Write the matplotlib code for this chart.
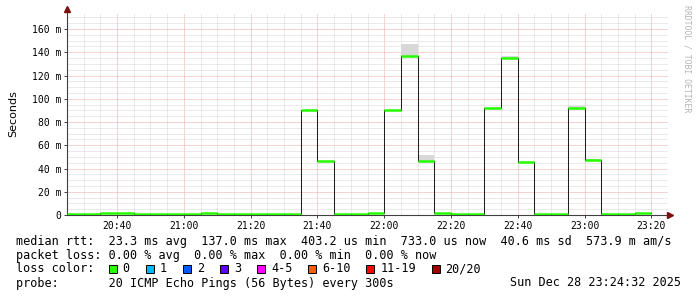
"""SmokePing style latency graph (rrdtool look) redrawn with matplotlib."""
import pandas as pd
import matplotlib
matplotlib.use("Agg")
import matplotlib.pyplot as plt
import matplotlib.dates as mdates
from matplotlib.patches import Rectangle
from matplotlib.ticker import MultipleLocator, FuncFormatter

# 5 minute steps, start of each step
times = pd.date_range("2025-12-28 20:25", periods=35, freq="5min")
# median rtt per step, in milliseconds
median = [0.7, 0.7, 1.5, 1.5, 0.7, 0.7, 0.7, 0.7, 1.5, 0.7, 0.7, 0.7, 0.7, 0.7,
          90.6, 46.7, 0.7, 0.7, 1.3, 90.6, 137.0, 46.7, 1.3, 0.7, 0.7,
          91.8, 135.3, 45.6, 0.7, 0.7, 91.8, 47.0, 0.7, 0.7, 1.3]
# top of the smoke (max ping) per step, in milliseconds
smoke_hi = [0.7, 0.7, 1.5, 1.5, 0.7, 0.7, 0.7, 0.7, 1.5, 0.7, 0.7, 0.7, 0.7, 0.7,
            90.6, 46.7, 0.7, 0.7, 1.3, 90.6, 146.8, 51.6, 1.3, 0.7, 0.7,
            91.8, 136.8, 45.6, 0.7, 0.7, 93.5, 48.3, 0.7, 0.7, 1.3]

loss_labels = ["0", "1", "2", "3", "4-5", "6-10", "11-19", "20/20"]
loss_colors = ["#26ff00", "#00b8ff", "#0059ff", "#5e00ff", "#ff00ff",
               "#ff5e00", "#ff0000", "#a10000"]

rtt_line = "median rtt:  23.3 ms avg  137.0 ms max  403.2 us min  733.0 us now  40.6 ms sd  573.9 m am/s"
loss_line = "packet loss: 0.00 % avg  0.00 % max  0.00 % min  0.00 % now"
probe_line = "probe:       20 ICMP Echo Pings (56 Bytes) every 300s"
stamp = "Sun Dec 28 23:24:32 2025"

W, H = 697, 297
MONO = "DejaVu Sans Mono"


def fx(x):
    return x / W


def fy(y):
    return 1 - y / H


fig = plt.figure(figsize=(W / 100, H / 100), dpi=100)
fig.patch.set_facecolor("white")
ax = fig.add_axes([fx(67), fy(215), (668 - 67) / W, (215 - 13) / H])

step = pd.Timedelta("5min")
ends = times + step

# smoke between median and max
for t0, t1, lo, hi in zip(times, ends, median, smoke_hi):
    if hi > lo:
        ax.fill_between([t0, t1], lo, hi, color="#d8d8d8", lw=0, zorder=2)

# thin black connecting line
ax.step(list(times) + [ends[-1]], median + [median[-1]], where="post",
        color="#202020", lw=0.75, zorder=3)
# median coloured by loss (all 0 here)
ax.hlines(median, times, ends, color=loss_colors[0], lw=1.8, zorder=4)

ax.set_xlim(pd.Timestamp("2025-12-28 20:25"), pd.Timestamp("2025-12-28 23:25"))
ax.set_ylim(0, 173.8)

ax.xaxis.set_major_locator(mdates.MinuteLocator(byminute=[0, 20, 40]))
ax.xaxis.set_minor_locator(mdates.MinuteLocator(byminute=range(0, 60, 5)))
ax.xaxis.set_major_formatter(mdates.DateFormatter("%H:%M"))
ax.yaxis.set_major_locator(MultipleLocator(20))
ax.yaxis.set_minor_locator(MultipleLocator(5))
ax.yaxis.set_major_formatter(FuncFormatter(lambda v, p: "0" if v == 0 else f"{v:.0f} m"))

ax.grid(which="minor", color="#d6d6d6", ls=(0, (1, 1)), lw=0.72, zorder=0)
ax.grid(which="major", color="#f0a6a6", ls=(0, (1, 1)), lw=0.72, zorder=1)
ax.set_axisbelow(True)

ax.tick_params(which="major", length=2, width=0.7, color="#404040", pad=2,
               labelsize=7)
ax.tick_params(which="minor", length=0)
for lab in ax.get_xticklabels() + ax.get_yticklabels():
    lab.set_family(MONO)

for s in ["top", "right"]:
    ax.spines[s].set_visible(False)
for s in ["left", "bottom"]:
    ax.spines[s].set_color("#404040")
    ax.spines[s].set_linewidth(0.8)

# axis arrows
ax.plot([0], [1.02], marker="^", ms=4, color="#7a1010", transform=ax.transAxes,
        clip_on=False, zorder=6)
ax.plot([1.004], [0], marker=">", ms=4, color="#7a1010", transform=ax.transAxes,
        clip_on=False, zorder=6)

ax.set_ylabel("Seconds", fontsize=8, labelpad=10)

fig.text(fx(687), fy(59), "RRDTOOL / TOBI OETIKER", rotation=270, family=MONO,
         fontsize=5.9, color="#b4b4b4", ha="center", va="center")

# legend rows
txt = dict(family=MONO, fontsize=8.45, va="center", ha="left", color="black")
fig.text(fx(16), fy(241), rtt_line, **txt)
fig.text(fx(16), fy(255), loss_line, **txt)
fig.text(fx(16), fy(269), "loss color:", **txt)
fig.text(fx(16), fy(283), probe_line, **txt)
fig.text(fx(681), fy(283), stamp, **dict(txt, ha="right"))

x = 108.7
for lab, col in zip(loss_labels, loss_colors):
    fig.patches.append(Rectangle((fx(x), fy(273)), 8 / W, 8 / H,
                                 transform=fig.transFigure, facecolor=col,
                                 edgecolor="black", lw=0.7))
    fig.text(fx(x + 14), fy(269), lab, **txt)
    x += 14 + len(lab) * 7.05 + 16

fig.savefig("out.png", dpi=100)
